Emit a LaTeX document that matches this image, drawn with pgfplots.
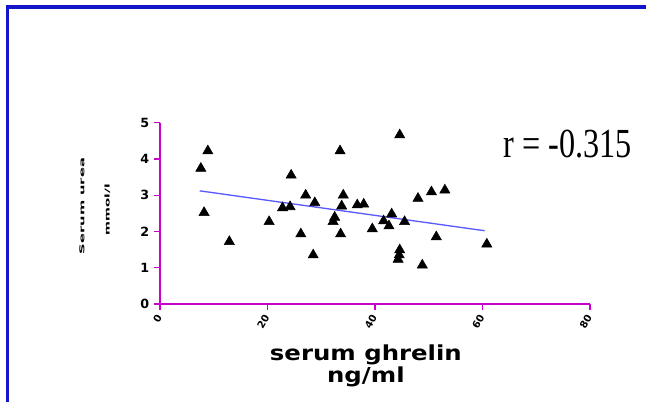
\documentclass[border=0pt]{standalone}
\usepackage{pgfplots}
\pgfplotsset{compat=1.18}
\usepackage{fontspec}
\setmainfont{DejaVu Sans}
\newfontfamily\rfont{Liberation Serif}
\definecolor{axmag}{RGB}{204,0,204}
\definecolor{framebl}{RGB}{20,20,200}
\definecolor{regbl}{RGB}{90,90,255}
\pgfplotstableread{
x y
8.9 4.22
7.6 3.74
8.2 2.52
12.9 1.72
20.3 2.27
24.4 3.55
22.8 2.65
24.2 2.68
27.1 3.00
28.8 2.79
26.2 1.93
28.5 1.35
33.5 4.22
34.1 3.00
33.8 2.70
32.5 2.39
32.2 2.27
33.6 1.93
36.7 2.73
37.9 2.75
39.5 2.07
41.6 2.29
43.1 2.48
42.6 2.15
44.6 4.66
45.5 2.27
44.6 1.49
44.5 1.35
44.3 1.23
48.0 2.91
50.5 3.09
53.0 3.14
51.4 1.85
48.8 1.07
60.8 1.65
}\ghrelin
\begin{document}
\begin{tikzpicture}
\path[use as bounding box] (0,0) rectangle (484.5pt,301.5pt);
\draw[framebl, line width=2.4pt] (5.4pt,-2pt) -- (5.4pt,296.2pt) -- (487pt,296.2pt);
\begin{axis}[
  at={(120pt,73.5pt)}, anchor=south west,
  scale only axis, width=322.5pt, height=136pt,
  xmin=0, xmax=80, ymin=0, ymax=5,
  axis x line=bottom, axis y line=left,
  axis line style={-, axmag, line width=1pt},
  tick style={axmag, line width=1pt},
  tick align=outside, major tick length=4.5pt,
  xtick={0,20,40,60,80}, ytick={0,1,2,3,4,5},
  /pgf/number format/assume math mode=true,
  yticklabel style={font=\bfseries\fontsize{9.5}{9.5}\selectfont, black},
  xticklabel style={font=\bfseries\fontsize{7.5}{7.5}\selectfont, black, rotate=60, anchor=east, inner sep=1pt},
  xticklabel shift=3pt,
  clip=false,
]
\addplot[only marks, mark=triangle*, mark size=4.4pt, black] table[x=x,y=y] {\ghrelin};
\addplot[regbl, line width=1pt] coordinates {(7.4,3.12) (60.4,2.02)};
\node[font=\rfont\fontsize{31}{31}\selectfont, xscale=0.78, anchor=center] at (axis cs:75.8,4.42) {r = -0.315};
\node[font=\bfseries\fontsize{15.5}{10.5}\selectfont, align=center, anchor=north, xscale=1.18] at (axis cs:38.3,-1.0) {serum ghrelin\\ng/ml};
\node[font=\bfseries\fontsize{5}{5}\selectfont, rotate=90, xscale=2.2, anchor=center] at (axis cs:-14.5,2.7) {Serum urea};
\node[font=\bfseries\fontsize{5}{5}\selectfont, rotate=90, xscale=2.0, anchor=center] at (axis cs:-9.8,2.6) {mmol/l};
\end{axis}
\end{tikzpicture}
\end{document}
